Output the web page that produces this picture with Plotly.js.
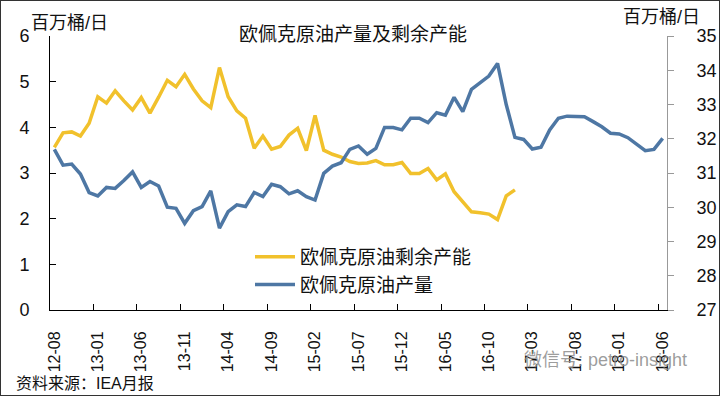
<!DOCTYPE html>
<html>
<head>
<meta charset="utf-8">
<script src="https://cdn.plot.ly/plotly-3.0.1.min.js"></script>
<style>
  html, body { margin: 0; padding: 0; background: #fff; }
  #chart { width: 718px; height: 394px; border: 1px solid #333; }
</style>
</head>
<body>
<div id="chart"></div>
<script>
// ---- data ----
const months = [
  "12-08","12-09","12-10","12-11","12-12",
  "13-01","13-02","13-03","13-04","13-05","13-06","13-07","13-08","13-09","13-10","13-11","13-12",
  "14-01","14-02","14-03","14-04","14-05","14-06","14-07","14-08","14-09","14-10","14-11","14-12",
  "15-01","15-02","15-03","15-04","15-05","15-06","15-07","15-08","15-09","15-10","15-11","15-12",
  "16-01","16-02","16-03","16-04","16-05","16-06","16-07","16-08","16-09","16-10","16-11","16-12",
  "17-01","17-02","17-03","17-04","17-05","17-06","17-07","17-08","17-09","17-10","17-11","17-12",
  "18-01","18-02","18-03","18-04","18-05","18-06"
];
const tickLabels = ["12-08","13-01","13-06","13-11","14-04","14-09","15-02","15-07","15-12","16-05","16-10","17-03","17-08","18-01","18-06"];

// OPEC spare capacity (mb/d, left axis), 2012-08 .. 2017-01
const spareCapacity = [
  3.56, 3.88, 3.90, 3.81, 4.09,
  4.67, 4.53, 4.80, 4.58, 4.38, 4.65, 4.31, 4.66, 5.03, 4.89, 5.16, 4.84,
  4.58, 4.43, 5.31, 4.67, 4.36, 4.20, 3.54, 3.81, 3.52, 3.58, 3.83, 3.98,
  3.49, 4.26, 3.50, 3.41, 3.35, 3.25, 3.21, 3.22, 3.27, 3.18, 3.18, 3.23,
  2.99, 2.99, 3.10, 2.85, 2.98, 2.59, 2.37, 2.15, 2.13, 2.10, 1.98, 2.50,
  2.63
];
// OPEC crude production (mb/d, right axis), 2012-08 .. 2018-06
const production = [
  31.69, 31.23, 31.26, 30.97, 30.43,
  30.33, 30.58, 30.55, 30.78, 31.03, 30.58, 30.75, 30.62, 30.00, 29.97, 29.53, 29.90,
  30.02, 30.48, 29.39, 29.87, 30.07, 30.02, 30.43, 30.31, 30.67, 30.60, 30.39, 30.48,
  30.31, 30.21, 30.99, 31.20, 31.30, 31.69, 31.79, 31.55, 31.72, 32.33, 32.33, 32.26,
  32.60, 32.60, 32.47, 32.76, 32.69, 33.21, 32.79, 33.44, 33.64, 33.83, 34.20, 33.00,
  32.04, 31.98, 31.70, 31.75, 32.26, 32.60, 32.66, 32.64, 32.64, 32.50, 32.35, 32.16,
  32.14, 32.03, 31.85, 31.65, 31.69, 32.01
];
const seriesNames = ["欧佩克原油剩余产能", "欧佩克原油产量"];
const titleText = "欧佩克原油产量及剩余产能";
const unitText = "百万桶/日";
const sourceText = "资料来源：IEA月报";
const watermarkText = "微信号: petro-insight";

// ---- layout helpers (page pixel -> paper coords) ----
const M = {l: 49, r: 52, t: 35, b: 85};
const W = 718, H = 394;
const PW = W - M.l - M.r, PH = H - M.t - M.b;
const px = x => (x - 1 - M.l) / PW;
const py = y => (H - M.b - (y - 1)) / PH;

const FONT = "Liberation Sans, Arial, 'Noto Sans CJK SC', sans-serif";
const YELLOW = "#F1C12C";
const BLUE = "#4E77A4";

const traces = [
  {
    x: months.slice(0, spareCapacity.length), y: spareCapacity,
    name: seriesNames[0], type: "scatter", mode: "lines",
    line: {color: YELLOW, width: 3.5}, yaxis: "y"
  },
  {
    x: months, y: production,
    name: seriesNames[1], type: "scatter", mode: "lines",
    line: {color: BLUE, width: 3.5}, yaxis: "y2"
  }
];

const layout = {
  width: W, height: H,
  margin: M,
  paper_bgcolor: "#fff", plot_bgcolor: "#fff",
  font: {family: FONT, color: "#111", size: 16},
  showlegend: true,
  title: {
    text: titleText, font: {size: 19, color: "#111"},
    xref: "container", yref: "container",
    x: (353 - 1) / W, xanchor: "center",
    y: 1 - (34 - 1) / H, yanchor: "middle"
  },
  xaxis: {
    type: "category", categoryorder: "array", categoryarray: months,
    range: [-0.5, 70.5], tickmode: "array", tickvals: tickLabels,
    tickson: "boundaries",
    ticks: "inside", ticklen: 6, tickcolor: "#000", tickwidth: 1,
    showline: true, linecolor: "#000", linewidth: 1,
    tickangle: -90, tickfont: {size: 16, color: "#111"},
    ticklabelstandoff: 14,
    showgrid: false, zeroline: false, fixedrange: true
  },
  yaxis: {
    range: [0, 6], dtick: 1, tick0: 0,
    ticks: "inside", ticklen: 6, tickcolor: "#000",
    showline: true, linecolor: "#000", linewidth: 1,
    tickfont: {size: 18, color: "#111"},
    ticklabelstandoff: 16,
    showgrid: false, zeroline: false
  },
  yaxis2: {
    overlaying: "y", side: "right",
    range: [27, 35], dtick: 1, tick0: 27,
    ticks: "outside", ticklen: 6, tickcolor: "#999",
    showline: true, linecolor: "#999", linewidth: 1,
    tickfont: {size: 18, color: "#111"},
    ticklabelstandoff: 19,
    showgrid: false, zeroline: false
  },
  legend: {
    x: px(250), xanchor: "left", y: py(238), yanchor: "top",
    bgcolor: "rgba(0,0,0,0)", borderwidth: 0,
    font: {size: 19, color: "#111"}, itemwidth: 40,
    tracegroupgap: 0
  },
  annotations: [
    {text: unitText, xref: "paper", yref: "paper", x: px(29), y: py(23),
     xanchor: "left", yanchor: "middle", showarrow: false, font: {size: 18, color: "#111"}},
    {text: unitText, xref: "paper", yref: "paper", x: px(621), y: py(17),
     xanchor: "left", yanchor: "middle", showarrow: false, font: {size: 18, color: "#111"}},
    {text: sourceText, xref: "paper", yref: "paper", x: px(14), y: py(383),
     xanchor: "left", yanchor: "middle", showarrow: false, font: {size: 16, color: "#111"}},
    {text: watermarkText, xref: "paper", yref: "paper", x: px(522), y: py(360),
     xanchor: "left", yanchor: "middle", showarrow: false,
     font: {size: 18, color: "rgba(140,140,140,0.85)"}}
  ]
};

Plotly.newPlot("chart", traces, layout, {displayModeBar: false, staticPlot: true});
</script>
</body>
</html>
